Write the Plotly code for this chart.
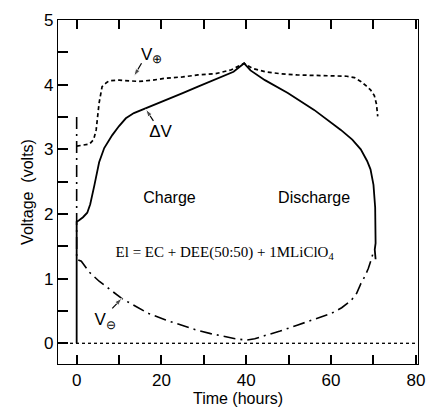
import plotly.graph_objects as go

# ΔV (cell voltage), solid
dv_t = [0, 0, 0.5, 1.5, 2.5, 3.2, 4.2, 5.3, 6.5, 8.4, 10, 11.6, 13.5, 16.2, 20.9, 25, 28.6, 33.3, 37, 39.5,
        41, 44.4, 49.8, 56, 62.3, 65, 67, 68.5, 69.3, 70, 70.4, 70.5, 70.3, 70.5]
dv_v = [0, 1.88, 1.9, 1.95, 2.02, 2.15, 2.45, 2.8, 3.02, 3.22, 3.36, 3.48, 3.56, 3.63, 3.76, 3.87, 3.97, 4.1, 4.2, 4.33,
        4.22, 4.07, 3.87, 3.61, 3.3, 3.15, 3.0, 2.82, 2.69, 2.45, 2.1, 1.55, 1.45, 1.3]

# V⊕ (positive electrode), short dashes
vp_t = [0, 1.5, 3, 4, 4.6, 5.3, 6, 7, 7.7, 10, 12, 14.7, 18, 20.9, 25, 28.6, 32.8, 36.5, 39.5,
        41.5, 44.4, 48, 52, 58, 63.7, 65.5, 67, 68.3, 69.3, 70.2, 70.7, 71]
vp_v = [3.05, 3.06, 3.08, 3.15, 3.3, 3.72, 3.97, 4.03, 4.06, 4.07, 4.06, 4.05, 4.07, 4.1, 4.12, 4.15, 4.17, 4.23, 4.33,
        4.25, 4.2, 4.17, 4.15, 4.14, 4.13, 4.11, 4.05, 3.98, 3.92, 3.83, 3.7, 3.51]

# V⊖ (negative electrode), dash-dot
vn_t = [0, 0, 1.1, 3, 5.3, 8, 10.7, 14, 17, 21, 24.7, 28, 31.6, 35, 37.4, 40, 42, 44.4, 48, 52, 56, 60,
        62.5, 64.7, 66, 67, 68, 68.8, 69.5, 70]
vn_v = [3.5, 1.3, 1.27, 1.1, 0.96, 0.82, 0.69, 0.57, 0.46, 0.36, 0.28, 0.21, 0.15, 0.1, 0.07, 0.05, 0.07, 0.12, 0.19, 0.28, 0.37, 0.46,
        0.55, 0.66, 0.77, 0.92, 1.04, 1.16, 1.3, 1.42]

# zero reference line
zero_t = [-4.4, 80.5]
zero_v = [0, 0]

# curve labels: text position and arrow (tail -> tip)
label_text = ["V<sub>⊕</sub>", "ΔV", "V<sub>⊖</sub>"]
label_t = [17.7, 19.8, 6.7]
label_v = [4.45, 3.26, 0.35]
arrow_tail_t = [15.3, 18.1, 8.4]
arrow_tail_v = [4.33, 3.44, 0.54]
arrow_tip_t = [13.5, 16.3, 10.7]
arrow_tip_v = [4.13, 3.62, 0.70]

region_text = ["Charge", "Discharge"]
region_t = [21.9, 56]
region_v = [2.23, 2.23]

electrolyte_text = "El = EC + DEE(50:50) + 1MLiClO<sub>4</sub>"
electrolyte_t = 34.9
electrolyte_v = 1.39

x_range = [-4.4, 80.5]
y_range = [-0.32, 5]
x_major = [0, 20, 40, 60, 80]
x_minor = [10, 30, 50, 70]
y_major = [0, 1, 2, 3, 4, 5]
y_minor = [0.5, 1.5, 2.5, 3.5, 4.5]

sans = "Liberation Sans, Arial, sans-serif"

fig = go.Figure()
fig.add_trace(go.Scatter(x=zero_t, y=zero_v, mode="lines",
                         line=dict(color="black", width=1, dash="dot"), showlegend=False))
# same zero line on the overlay axes (carries the minor ticks)
fig.add_trace(go.Scatter(x=zero_t, y=zero_v, mode="lines", xaxis="x2", yaxis="y2",
                         line=dict(color="black", width=1, dash="dot"), showlegend=False, hoverinfo="skip"))
fig.add_trace(go.Scatter(x=vn_t, y=vn_v, mode="lines",
                         line=dict(color="black", width=1.6, dash="12px,5px,2px,5px"), showlegend=False))
fig.add_trace(go.Scatter(x=vp_t, y=vp_v, mode="lines",
                         line=dict(color="black", width=1.7, dash="4px,3px"), showlegend=False))
fig.add_trace(go.Scatter(x=dv_t, y=dv_v, mode="lines",
                         line=dict(color="black", width=1.8), showlegend=False))

# arrows
for i in range(len(label_text)):
    fig.add_trace(go.Scatter(x=[arrow_tail_t[i], arrow_tip_t[i]], y=[arrow_tail_v[i], arrow_tip_v[i]],
                             mode="lines+markers", line=dict(color="black", width=1.2),
                             marker=dict(symbol="arrow", angleref="previous", size=[0, 8], color="black"),
                             showlegend=False, hoverinfo="skip"))

# labels
fig.add_trace(go.Scatter(x=label_t, y=label_v, text=label_text, mode="text", textposition="middle center",
                         textfont=dict(size=17, family=sans, color="black"), showlegend=False))
fig.add_trace(go.Scatter(x=region_t, y=region_v, text=region_text, mode="text", textposition="middle center",
                         textfont=dict(size=16, family=sans, color="black"), showlegend=False))
fig.add_trace(go.Scatter(x=[electrolyte_t], y=[electrolyte_v], text=[electrolyte_text], mode="text",
                         textposition="middle center",
                         textfont=dict(size=15, family="Liberation Serif, Times New Roman, serif", color="black"),
                         showlegend=False))

fig.update_layout(
    width=436, height=417,
    margin=dict(l=58, r=11, t=16, b=53),
    paper_bgcolor="white", plot_bgcolor="white",
    font=dict(size=16, family=sans, color="black"),
    showlegend=False,
    xaxis=dict(range=x_range, tickvals=x_major, ticks="inside", ticklen=9, tickwidth=2, tickcolor="black",
               showline=True, linecolor="black", linewidth=1.2, mirror="allticks",
               showgrid=False, zeroline=False,
               title=dict(text="Time (hours)", font=dict(size=16), standoff=4),
               tickfont=dict(size=17)),
    yaxis=dict(range=y_range, tickvals=y_major, ticks="inside", ticklen=10, tickwidth=2, tickcolor="black",
               showline=True, linecolor="black", linewidth=1.2, mirror=True,
               showgrid=False, zeroline=False,
               title=dict(text="Voltage  (volts)", font=dict(size=16), standoff=6),
               tickfont=dict(size=17)),
    xaxis2=dict(range=x_range, overlaying="x", anchor="y2", side="bottom", tickvals=x_minor,
                ticks="inside", ticklen=9, tickwidth=2, tickcolor="black", showticklabels=False,
                showline=False, mirror="allticks", showgrid=False, zeroline=False),
    yaxis2=dict(range=y_range, overlaying="y", anchor="x2", side="left", tickvals=y_minor,
                ticks="inside", ticklen=10, tickwidth=2, tickcolor="black", showticklabels=False,
                showline=False, showgrid=False, zeroline=False),
)

fig.write_html("out.html")
